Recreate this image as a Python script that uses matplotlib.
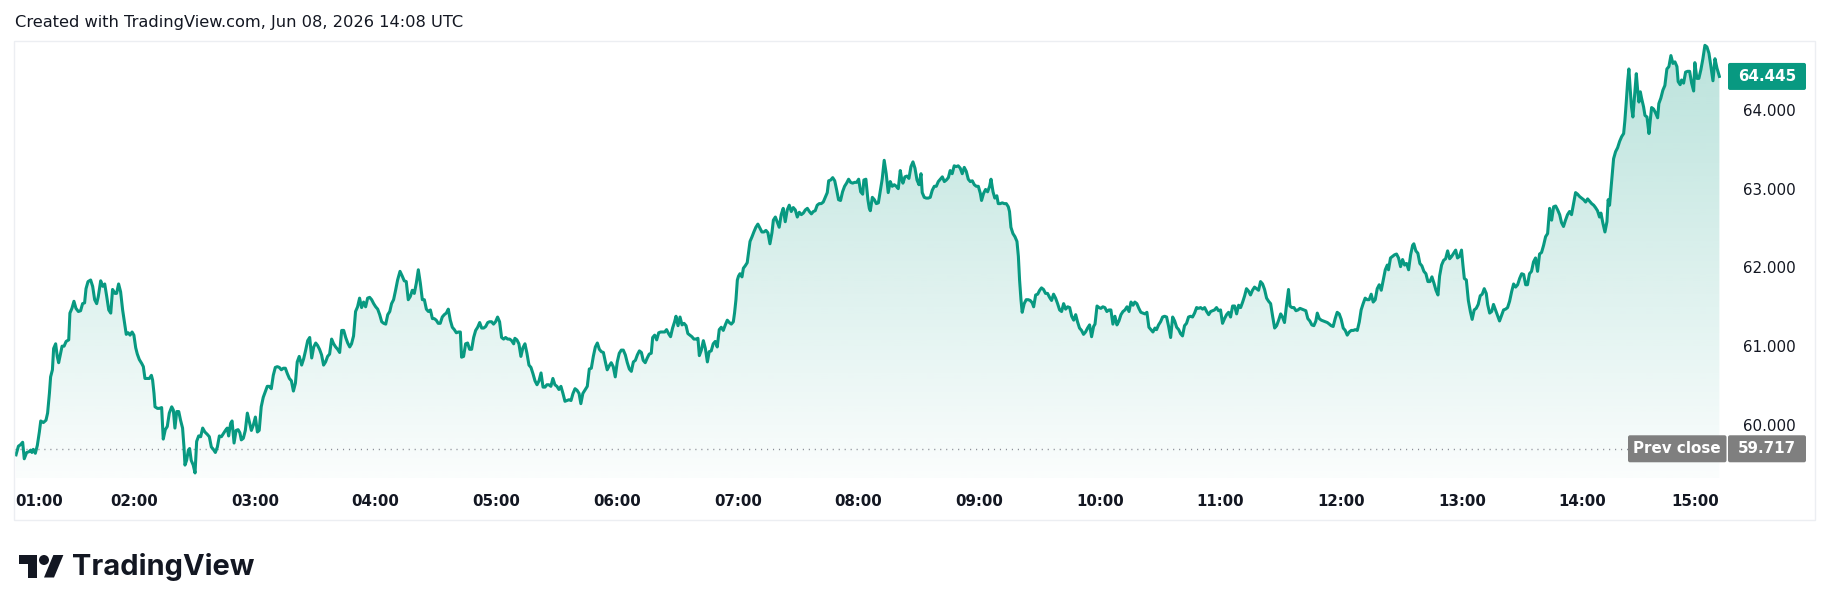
import numpy as np
import matplotlib.pyplot as plt
from matplotlib.colors import to_rgb
from matplotlib.patches import FancyBboxPatch, Polygon, Circle, Rectangle

# (minutes after midnight, price), one list per stretch
seg_0100 = [(61.2, 59.64), (62.4, 59.75), (63.5, 59.77), (64.5, 59.80), (65.3, 59.59), (66.5, 59.67),
            (67.7, 59.68), (68.5, 59.70), (69.1, 59.67), (69.8, 59.71), (70.8, 59.66), (71.8, 59.76),
            (72.8, 59.93), (73.5, 60.07), (74.8, 60.05), (76.1, 60.08), (76.9, 60.17), (77.8, 60.42),
            (78.4, 60.63), (79.3, 60.72), (79.9, 60.99), (80.9, 61.05), (81.7, 60.89), (82.4, 60.81),
            (83.4, 60.93), (84.1, 61.02), (85.1, 61.02), (86.1, 61.08), (87.4, 61.10), (88.0, 61.44),
            (89.0, 61.50), (90.0, 61.59), (91.0, 61.50), (92.2, 61.46), (93.3, 61.47), (94.3, 61.56),
            (95.3, 61.57), (96.0, 61.75), (97.0, 61.84), (98.3, 61.86), (99.3, 61.78), (100.3, 61.61),
            (101.3, 61.56), (102.1, 61.65), (103.3, 61.85), (104.3, 61.78), (105.3, 61.81), (106.3, 61.65),
            (107.3, 61.48), (108.3, 61.44), (109.2, 61.74), (110.4, 61.69), (111.2, 61.69), (112.2, 61.81),
            (113.2, 61.71), (114.2, 61.48), (115.2, 61.31), (116.0, 61.17), (117.0, 61.19), (117.9, 61.16),
            (118.9, 61.20), (119.8, 61.16), (120.7, 61.00), (121.5, 60.92), (122.5, 60.85), (123.7, 60.80),
            (124.5, 60.76), (125.3, 60.61), (126.5, 60.61), (127.5, 60.61), (128.5, 60.65), (129.1, 60.59),
            (129.8, 60.42), (130.3, 60.25), (131.5, 60.23), (132.4, 60.23), (133.6, 60.24), (134.4, 59.84),
            (135.4, 59.96), (136.4, 60.00), (137.4, 60.17), (138.6, 60.25), (139.4, 60.21), (140.2, 59.98),
            (141.1, 60.19), (142.1, 60.19), (143.0, 60.08), (144.0, 59.98), (144.7, 59.74), (145.2, 59.51),
            (146.0, 59.57), (146.9, 59.70), (147.5, 59.72), (148.3, 59.57), (149.3, 59.51), (150.2, 59.41),
            (151.0, 59.81), (152.0, 59.88), (153.0, 59.87), (154.0, 59.98), (155.1, 59.93), (156.3, 59.90),
            (157.3, 59.87), (158.3, 59.74), (159.3, 59.71), (160.3, 59.67), (161.3, 59.74), (162.3, 59.88),
            (163.3, 59.87), (164.3, 59.91), (165.3, 59.95), (166.2, 59.98), (166.9, 59.88), (167.9, 60.04),
            (168.6, 60.07), (169.6, 59.79), (170.6, 59.95), (171.6, 59.96), (172.5, 59.92), (173.2, 59.83),
            (174.2, 59.85), (175.2, 59.95), (176.2, 60.17), (177.2, 60.06), (178.2, 59.95), (179.2, 60.02),
            (180.2, 60.12), (181.2, 59.93), (182.1, 59.95), (183.1, 60.25), (184.1, 60.37), (185.1, 60.44),
            (186.1, 60.51), (187.1, 60.51), (188.1, 60.48), (189.1, 60.65), (190.1, 60.75), (191.1, 60.76),
            (192.1, 60.75), (193.1, 60.72), (194.1, 60.74), (195.1, 60.74), (196.1, 60.67), (197.1, 60.61),
            (198.1, 60.58), (199.1, 60.45), (200.1, 60.55), (201.0, 60.82), (202.0, 60.89)]

seg_0320 = [(203.2, 60.78), (204.2, 60.86), (205.2, 60.97), (206.2, 61.09), (207.2, 61.13), (208.2, 60.87),
            (209.2, 61.01), (210.2, 61.06), (211.1, 61.03), (212.1, 60.98), (213.1, 60.91), (214.1, 60.78),
            (215.1, 60.82), (216.1, 60.89), (217.1, 60.92), (218.1, 61.11), (219.1, 61.05), (220.1, 61.01),
            (221.1, 60.98), (222.1, 60.94), (223.1, 61.22), (224.1, 61.22), (225.1, 61.13), (226.1, 61.06),
            (227.1, 61.01), (228.0, 61.05), (229.0, 61.15), (230.0, 61.46), (231.0, 61.52), (232.0, 61.63),
            (233.0, 61.51), (234.0, 61.58), (235.0, 61.52), (236.0, 61.63), (237.0, 61.64), (238.0, 61.61),
            (239.0, 61.56), (240.0, 61.52), (241.0, 61.49), (242.0, 61.42), (243.0, 61.33), (244.0, 61.31),
            (245.0, 61.30), (246.0, 61.42), (247.0, 61.46), (247.9, 61.56), (248.9, 61.61), (249.9, 61.73),
            (250.9, 61.86), (252.1, 61.97), (253.2, 61.91), (254.2, 61.85), (255.2, 61.84), (256.2, 61.61),
            (257.2, 61.65), (258.2, 61.73), (259.2, 61.69), (260.2, 61.82), (261.2, 61.99), (262.2, 61.82),
            (263.2, 61.61), (264.2, 61.61), (265.2, 61.49), (266.2, 61.46), (267.2, 61.48), (268.2, 61.37),
            (269.1, 61.37), (270.1, 61.35), (271.1, 61.31), (272.1, 61.31), (273.1, 61.39), (274.1, 61.42),
            (275.1, 61.44), (276.1, 61.49), (277.1, 61.35), (278.1, 61.26), (279.1, 61.23), (280.1, 61.19),
            (281.1, 61.20), (282.1, 61.20), (282.7, 60.88), (283.7, 60.89), (284.7, 61.05), (285.7, 61.06),
            (286.7, 60.98), (287.7, 60.98), (288.7, 61.13), (289.7, 61.22), (290.7, 61.26), (291.7, 61.32),
            (292.7, 61.25), (293.7, 61.25), (294.7, 61.27), (295.7, 61.32), (296.6, 61.33), (297.6, 61.33),
            (298.6, 61.30), (299.6, 61.33), (300.6, 61.39), (301.6, 61.33), (302.6, 61.13), (303.6, 61.11),
            (304.6, 61.13), (305.6, 61.11), (306.6, 61.11), (307.6, 61.09), (308.6, 61.05), (309.2, 61.12),
            (310.2, 61.10), (311.2, 61.05), (312.2, 60.89), (313.2, 61.00), (314.2, 61.05), (315.2, 60.93),
            (316.2, 60.78), (317.2, 60.75), (318.2, 60.67), (319.2, 60.58), (320.2, 60.53), (321.2, 60.58),
            (322.2, 60.68), (323.2, 60.50), (324.2, 60.50), (325.1, 60.53), (326.1, 60.53), (327.1, 60.51),
            (328.1, 60.61), (329.1, 60.53), (330.1, 60.51), (331.1, 60.47), (332.1, 60.51), (333.1, 60.42),
            (334.1, 60.32), (335.1, 60.33), (336.1, 60.34), (337.1, 60.33), (338.1, 60.42), (339.1, 60.48),
            (340.1, 60.46), (341.1, 60.42), (342.0, 60.29), (343.0, 60.42), (344.0, 60.46)]

seg_0545 = [(345.2, 60.51), (346.2, 60.73), (347.2, 60.74), (348.2, 60.89), (349.2, 61.01), (350.2, 61.06),
            (351.2, 60.98), (352.2, 60.95), (353.2, 60.94), (354.2, 60.82), (355.1, 60.72), (356.1, 60.77),
            (357.1, 60.81), (358.1, 60.76), (359.1, 60.63), (360.1, 60.82), (361.1, 60.93), (362.1, 60.97),
            (363.1, 60.97), (364.1, 60.91), (365.1, 60.81), (366.1, 60.73), (367.1, 60.70), (368.1, 60.82),
            (369.1, 60.84), (370.1, 60.91), (371.1, 60.96), (372.1, 60.94), (373.0, 60.84), (374.0, 60.81),
            (375.0, 60.87), (376.0, 60.92), (377.0, 60.93), (377.7, 61.13), (378.7, 61.16), (379.7, 61.10),
            (380.7, 61.19), (381.7, 61.20), (382.7, 61.20), (383.7, 61.20), (384.6, 61.23), (385.6, 61.18),
            (386.6, 61.14), (387.6, 61.25), (388.6, 61.33), (389.3, 61.40), (390.3, 61.28), (391.3, 61.39),
            (392.3, 61.29), (393.3, 61.31), (394.3, 61.28), (395.2, 61.18), (396.2, 61.16), (397.2, 61.14),
            (398.2, 61.11), (399.2, 61.11), (400.2, 61.12), (400.9, 60.90), (401.9, 60.97), (402.9, 61.09),
            (403.9, 60.99), (404.9, 60.82), (405.8, 60.95), (406.8, 60.96), (407.8, 61.05), (408.8, 61.08),
            (409.8, 61.01), (410.8, 61.23), (411.8, 61.26), (412.8, 61.22), (413.8, 61.29), (414.8, 61.35),
            (415.8, 61.32), (416.8, 61.30), (417.8, 61.33), (418.4, 61.44), (419.1, 61.61), (419.8, 61.86),
            (420.4, 61.91), (421.1, 61.94), (422.1, 61.90), (422.8, 62.01), (423.7, 62.04), (424.7, 62.08),
            (425.4, 62.21), (426.1, 62.35), (427.1, 62.41), (428.0, 62.47), (429.0, 62.53), (430.0, 62.57),
            (431.0, 62.52), (432.0, 62.47), (433.0, 62.47), (434.0, 62.49), (435.0, 62.46), (436.0, 62.32),
            (437.0, 62.46), (437.7, 62.62), (438.7, 62.66), (439.7, 62.59), (440.6, 62.53), (441.6, 62.69),
            (442.6, 62.77), (443.6, 62.60), (444.6, 62.75), (445.6, 62.81), (446.6, 62.73), (447.6, 62.78),
            (448.6, 62.75), (449.6, 62.66), (450.6, 62.72), (451.6, 62.69), (452.6, 62.71), (453.6, 62.75),
            (454.6, 62.77), (455.6, 62.73), (456.6, 62.70), (457.6, 62.73), (458.5, 62.74), (459.5, 62.81),
            (460.5, 62.83), (461.5, 62.83), (462.5, 62.85), (463.5, 62.91), (464.5, 62.97), (465.2, 63.12),
            (466.2, 63.13), (467.2, 63.16), (468.2, 63.12), (469.2, 63.00), (470.1, 62.88), (471.1, 62.87),
            (472.1, 62.98), (473.1, 63.05), (474.1, 63.09), (475.1, 63.14), (476.1, 63.10), (477.1, 63.09),
            (478.1, 63.10), (479.1, 63.10), (480.1, 63.14), (481.1, 62.98), (482.1, 62.95), (482.7, 63.13),
            (483.7, 63.14), (484.7, 62.88), (485.4, 62.77)]

seg_0805 = [(485.9, 62.74), (486.9, 62.91), (487.9, 62.88), (488.9, 62.83), (489.9, 62.84), (490.9, 63.00),
            (491.8, 63.14), (492.8, 63.38), (493.8, 63.21), (494.8, 62.97), (495.8, 63.11), (496.8, 63.05),
            (497.8, 63.07), (498.8, 63.05), (499.8, 63.02), (500.8, 63.25), (501.5, 63.14), (502.1, 63.09),
            (503.1, 63.17), (504.1, 63.18), (505.1, 63.15), (506.1, 63.30), (507.1, 63.36), (508.1, 63.28),
            (509.1, 63.13), (510.1, 63.07), (511.1, 63.21), (511.7, 62.97), (512.7, 62.91), (513.7, 62.90),
            (514.7, 62.90), (515.7, 62.91), (516.7, 63.00), (517.7, 63.05), (518.7, 63.05), (519.7, 63.11),
            (520.7, 63.14), (521.7, 63.17), (522.7, 63.11), (523.7, 63.13), (524.7, 63.16), (525.6, 63.25),
            (526.6, 63.21), (527.6, 63.31), (528.6, 63.30), (529.6, 63.31), (530.6, 63.28), (531.6, 63.21),
            (532.6, 63.29), (533.6, 63.24), (534.6, 63.14), (535.6, 63.11), (536.6, 63.12), (537.6, 63.07),
            (538.6, 63.05), (539.6, 63.05), (540.6, 62.96), (541.2, 62.87), (542.2, 62.96), (543.2, 63.01),
            (544.2, 62.98), (545.2, 63.05), (545.9, 63.14), (546.9, 62.98), (547.8, 62.90), (548.8, 62.93),
            (549.5, 62.83), (550.5, 62.83), (551.5, 62.84), (552.5, 62.83), (553.5, 62.83), (554.5, 62.79),
            (555.1, 62.73), (555.8, 62.53), (556.8, 62.45), (557.8, 62.41), (558.8, 62.35), (559.5, 62.16),
            (560.1, 61.86), (560.8, 61.61), (561.4, 61.45), (562.4, 61.56), (563.4, 61.61), (564.4, 61.61),
            (565.4, 61.60), (566.4, 61.57), (567.1, 61.52), (568.1, 61.67), (569.1, 61.68), (570.1, 61.73),
            (571.0, 61.76), (572.0, 61.74), (573.0, 61.69), (574.0, 61.69), (575.0, 61.64), (576.0, 61.60),
            (577.0, 61.68), (578.0, 61.63), (579.0, 61.56), (580.0, 61.48), (581.0, 61.46), (582.0, 61.56),
            (583.0, 61.49), (584.0, 61.52), (585.0, 61.51), (586.0, 61.40), (587.0, 61.35), (588.0, 61.42),
            (588.9, 61.33), (589.9, 61.25), (590.9, 61.22), (591.9, 61.17), (592.9, 61.20), (593.9, 61.25),
            (594.9, 61.29), (595.9, 61.14), (596.9, 61.27), (597.6, 61.30), (598.6, 61.53), (599.6, 61.51),
            (600.5, 61.50), (601.5, 61.52), (602.5, 61.51), (603.5, 61.46), (604.5, 61.48), (605.5, 61.48),
            (606.5, 61.30), (607.5, 61.40), (608.5, 61.29), (609.5, 61.34), (610.5, 61.42), (611.5, 61.46),
            (612.5, 61.48), (613.5, 61.52), (614.5, 61.46), (615.5, 61.58), (616.5, 61.54), (617.4, 61.58),
            (618.4, 61.56), (619.4, 61.50), (620.4, 61.45), (621.4, 61.44), (622.4, 61.43), (623.4, 61.45),
            (624.4, 61.26), (625.4, 61.23), (626.4, 61.20), (627.4, 61.25)]

seg_1028 = [(628.2, 61.23), (629.2, 61.29), (630.2, 61.33), (631.2, 61.39), (632.2, 61.40), (633.2, 61.39),
            (634.2, 61.27), (635.2, 61.13), (636.2, 61.39), (637.2, 61.34), (638.2, 61.26), (639.2, 61.23),
            (640.1, 61.18), (641.1, 61.15), (642.1, 61.28), (643.1, 61.31), (644.1, 61.39), (645.1, 61.40),
            (646.1, 61.39), (647.1, 61.44), (648.1, 61.51), (649.1, 61.50), (650.1, 61.51), (651.1, 61.49),
            (652.1, 61.51), (653.1, 61.46), (654.1, 61.42), (655.1, 61.46), (656.1, 61.47), (657.0, 61.48),
            (658.0, 61.51), (659.0, 61.47), (660.0, 61.48), (661.0, 61.31), (662.0, 61.37), (663.0, 61.42),
            (664.0, 61.45), (665.0, 61.39), (666.0, 61.53), (667.0, 61.53), (668.0, 61.43), (669.0, 61.54),
            (670.0, 61.51), (671.0, 61.58), (672.0, 61.66), (672.9, 61.75), (673.9, 61.72), (674.9, 61.67),
            (675.9, 61.73), (676.9, 61.77), (677.9, 61.75), (678.9, 61.73), (679.9, 61.84), (680.9, 61.81),
            (681.9, 61.74), (682.9, 61.63), (683.9, 61.59), (684.9, 61.56), (685.9, 61.40), (686.9, 61.25),
            (687.9, 61.28), (688.9, 61.35), (689.9, 61.43), (690.8, 61.39), (691.8, 61.32), (692.8, 61.54),
            (693.8, 61.74), (694.5, 61.53), (695.5, 61.51), (696.5, 61.51), (697.5, 61.47), (698.5, 61.48),
            (699.5, 61.50), (700.5, 61.49), (701.5, 61.48), (702.4, 61.47), (703.4, 61.37), (704.4, 61.34),
            (705.4, 61.29), (706.4, 61.28), (707.4, 61.34), (708.1, 61.44), (709.1, 61.37), (710.1, 61.35),
            (711.1, 61.34), (712.1, 61.33), (713.1, 61.32), (714.1, 61.30), (715.0, 61.28), (716.0, 61.27),
            (717.0, 61.37), (718.0, 61.45), (719.0, 61.43), (720.0, 61.36), (721.0, 61.25), (722.0, 61.22),
            (723.0, 61.16), (724.0, 61.20), (725.0, 61.22), (726.0, 61.22), (727.0, 61.23), (728.0, 61.22),
            (729.0, 61.33), (729.9, 61.48), (730.9, 61.56), (731.9, 61.63), (732.9, 61.61), (733.9, 61.61),
            (734.9, 61.68), (735.9, 61.58), (736.9, 61.61), (737.9, 61.75), (738.9, 61.80), (739.9, 61.73),
            (740.9, 61.86), (741.9, 61.99), (742.9, 62.05), (743.5, 61.99), (744.5, 62.14), (745.5, 62.16),
            (746.5, 62.18), (747.5, 62.19), (748.5, 62.14), (749.5, 62.03), (750.5, 62.12), (751.5, 62.05),
            (752.5, 62.07), (753.5, 61.99), (754.5, 62.18), (755.5, 62.30), (756.1, 62.32), (757.1, 62.23),
            (758.1, 62.20), (759.1, 62.07), (760.1, 62.04), (761.1, 61.97), (762.1, 61.94), (763.1, 61.84),
            (764.1, 61.84), (765.1, 61.90), (766.1, 61.82), (767.1, 61.73), (768.1, 61.67)]

seg_1249 = [(768.9, 61.91), (769.9, 62.05), (770.9, 62.11), (771.9, 62.13), (772.9, 62.23), (773.9, 62.13),
            (774.9, 62.16), (775.9, 62.20), (776.9, 62.24), (777.8, 62.14), (778.8, 62.16), (779.8, 62.24),
            (780.5, 62.05), (781.2, 61.88), (782.2, 61.86), (783.2, 61.60), (784.2, 61.46), (785.1, 61.36),
            (786.1, 61.48), (787.1, 61.50), (788.1, 61.55), (789.1, 61.66), (790.1, 61.68), (791.1, 61.75),
            (792.1, 61.69), (792.8, 61.55), (793.8, 61.44), (794.8, 61.46), (795.7, 61.55), (796.7, 61.48),
            (797.7, 61.41), (798.7, 61.34), (799.7, 61.41), (800.7, 61.48), (801.7, 61.49), (802.7, 61.51),
            (803.7, 61.59), (804.7, 61.71), (805.7, 61.81), (806.7, 61.77), (807.7, 61.80), (808.7, 61.88),
            (809.7, 61.94), (810.7, 61.93), (811.7, 61.80), (812.6, 61.80), (813.6, 61.94), (814.6, 61.97),
            (815.6, 62.09), (816.6, 62.14), (817.6, 61.97), (818.6, 62.19), (819.6, 62.21), (820.6, 62.30),
            (821.6, 62.41), (822.6, 62.45), (823.6, 62.77), (824.6, 62.62), (825.6, 62.79), (826.6, 62.80),
            (827.6, 62.75), (828.6, 62.69), (829.5, 62.59), (830.5, 62.54), (831.5, 62.62), (832.5, 62.69),
            (833.5, 62.73), (834.5, 62.69), (835.5, 62.83), (836.5, 62.97), (837.5, 62.95), (838.5, 62.92),
            (839.5, 62.90), (840.5, 62.88), (841.5, 62.85), (842.5, 62.89), (843.5, 62.86), (844.5, 62.83),
            (845.5, 62.81), (846.4, 62.78), (847.4, 62.74), (848.4, 62.66), (849.1, 62.71), (850.1, 62.58),
            (851.1, 62.47), (852.1, 62.60), (852.7, 62.88), (853.4, 62.81), (854.4, 63.11), (855.4, 63.40),
            (856.4, 63.49), (857.4, 63.54), (858.4, 63.62), (859.4, 63.68), (860.4, 63.72), (861.0, 63.88),
            (861.7, 64.12), (862.4, 64.38), (863.0, 64.54), (863.7, 64.27), (864.3, 64.06), (865.0, 63.93),
            (865.7, 64.15), (866.7, 64.48), (867.3, 64.29), (868.0, 64.12), (868.7, 64.25), (869.3, 64.17),
            (870.3, 64.06), (871.0, 63.95), (872.0, 63.93), (873.0, 63.72), (873.6, 63.88), (874.3, 64.05),
            (875.3, 64.03), (876.3, 63.98), (877.3, 63.92), (877.9, 64.10), (878.9, 64.17), (879.9, 64.27),
            (880.9, 64.33), (881.9, 64.54), (882.9, 64.57), (883.9, 64.71), (884.9, 64.61), (885.9, 64.63),
            (886.9, 64.57), (887.5, 64.38), (888.5, 64.34), (889.2, 64.40), (890.2, 64.36), (891.2, 64.50),
            (892.2, 64.51), (893.2, 64.51), (894.2, 64.36), (895.2, 64.26), (895.8, 64.62), (896.8, 64.42),
            (897.8, 64.42), (898.8, 64.53), (899.8, 64.67), (900.8, 64.84), (901.8, 64.82), (902.8, 64.74),
            (903.8, 64.57), (904.8, 64.39), (905.8, 64.67), (906.8, 64.55), (908.0, 64.445)]

prev_close = 59.717
last_price = 64.445
price_ticks = [60.0, 61.0, 62.0, 63.0, 64.0]
hour_ticks = [60, 120, 180, 240, 300, 360, 420, 480, 540, 600, 660, 720, 780, 840, 900]
hour_labels = ["01:00", "02:00", "03:00", "04:00", "05:00", "06:00", "07:00", "08:00",
               "09:00", "10:00", "11:00", "12:00", "13:00", "14:00", "15:00"]
header = "Created with TradingView.com, Jun 08, 2026 14:08 UTC"

GREEN = "#089981"
INK = "#131722"
W, H = 1830, 611

# pane box in pixels
PL, PR, PT, PB = 14, 1721, 41, 478
XMIN, XMAX = 60.2, 908.8
YMIN, YMAX = 59.346, 64.895

pts = seg_0100 + seg_0320 + seg_0545 + seg_0805 + seg_1028 + seg_1249
minutes = np.array([p[0] for p in pts])
prices = np.array([p[1] for p in pts])


def price_px(v):
    return PT + (YMAX - v) / (YMAX - YMIN) * (PB - PT)


def time_px(t):
    return PL + (t - XMIN) / (XMAX - XMIN) * (PR - PL)


fig = plt.figure(figsize=(W / 100, H / 100), dpi=100)
fig.patch.set_facecolor("white")

ax = fig.add_axes([PL / W, 1 - PB / H, (PR - PL) / W, (PB - PT) / H])
ax.set_axis_off()

# gradient fill under the line
grad = np.zeros((256, 1, 4))
grad[..., :3] = to_rgb(GREEN)
grad[:, 0, 3] = np.linspace(0.28, 0.02, 256)
im = ax.imshow(grad, extent=[minutes[0], minutes[-1], YMIN, YMAX], aspect="auto",
               origin="upper", zorder=1, interpolation="bilinear")
area = ax.fill_between(minutes, prices, YMIN, facecolor="none", edgecolor="none")
im.set_clip_path(area.get_paths()[0], transform=ax.transData)

ax.axhline(prev_close, color="#8a8d96", lw=1.0, ls=(0, (0.8, 3.5)), zorder=2)
ax.plot(minutes, prices, color=GREEN, lw=2.2, solid_joinstyle="round", zorder=3)
ax.set_xlim(XMIN, XMAX)
ax.set_ylim(YMIN, YMAX)

# overlay in pixel coordinates for labels and decoration
ov = fig.add_axes([0, 0, 1, 1])
ov.set_xlim(0, W)
ov.set_ylim(H, 0)
ov.set_axis_off()

ov.add_patch(Rectangle((14, 41), 1801, 479, fill=False, edgecolor="#eceef2", lw=1))
ov.text(15, 22, header, fontsize=11.7, color=INK, va="center", ha="left")

for v in price_ticks:
    ov.text(1769.5, price_px(v), f"{v:.3f}", fontsize=10.9, color=INK, ha="center", va="center")

half = 25.5
for t, lab in zip(hour_ticks, hour_labels):
    x = min(max(time_px(t), PL + half), PR - half)
    ov.text(x, 501, lab, fontsize=10.8, color=INK, ha="center", va="center", fontweight="bold")

# last price and prev close tags
yl = price_px(last_price)
ov.add_patch(FancyBboxPatch((1728, yl - 13.5), 78, 27, boxstyle="round,pad=0,rounding_size=2",
                            fc=GREEN, ec="none"))
ov.text(1767, yl, f"{last_price:.3f}", fontsize=10.9, color="white", ha="center", va="center",
        fontweight="bold")

yp = price_px(prev_close)
ov.add_patch(FancyBboxPatch((1628, yp - 13.5), 98.5, 27, boxstyle="round,pad=0,rounding_size=2",
                            fc="#7f7f7f", ec="none"))
ov.add_patch(FancyBboxPatch((1728, yp - 13.5), 78, 27, boxstyle="round,pad=0,rounding_size=2",
                            fc="#7f7f7f", ec="none"))
ov.text(1677, yp, "Prev close", fontsize=10.9, color="white", ha="center", va="center",
        fontweight="bold")
ov.text(1767, yp, f"{prev_close:.3f}", fontsize=10.9, color="white", ha="center", va="center",
        fontweight="bold")

# TradingView logo
s, ox, oy = 1.25, 19, 555 - 4 * 1.25
T_shape = [(0, 4), (14, 4), (14, 22), (7, 22), (7, 11), (0, 11)]
slash = [(28, 22), (20, 22), (27.5, 4), (35.5, 4)]
ov.add_patch(Polygon([(ox + s * a, oy + s * b) for a, b in T_shape], closed=True, fc=INK, ec="none"))
ov.add_patch(Polygon([(ox + s * a, oy + s * b) for a, b in slash], closed=True, fc=INK, ec="none"))
ov.add_patch(Circle((ox + s * 20, oy + s * 8), s * 4, fc=INK, ec="none"))
ov.text(72, 567, "TradingView", fontsize=20.9, color=INK, ha="left", va="center",
        fontweight="bold", family=["Inter", "DejaVu Sans"])

fig.savefig("out.png", dpi=100, facecolor="white")
